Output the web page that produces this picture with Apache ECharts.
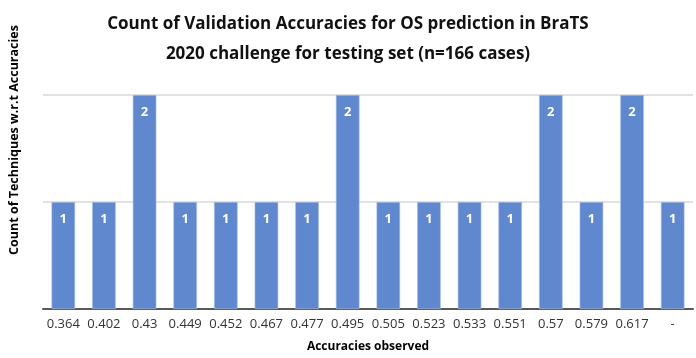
<!DOCTYPE html>
<html>
<head>
<meta charset="utf-8">
<script src="https://cdn.jsdelivr.net/npm/echarts@6/dist/echarts.min.js"></script>
<style>
html, body { margin: 0; padding: 0; background: #fff; }
#chart { width: 696px; height: 358px; }
</style>
</head>
<body>
<div id="chart"></div>
<script>
var categories = ['0.364', '0.402', '0.43', '0.449', '0.452', '0.467', '0.477', '0.495',
    '0.505', '0.523', '0.533', '0.551', '0.57', '0.579', '0.617', '-'];
var counts = [1, 1, 2, 1, 1, 1, 1, 2, 1, 1, 1, 1, 2, 1, 2, 1];
var titleLines = ['Count of Validation Accuracies for OS prediction in BraTS',
    '2020 challenge for testing set (n=166 cases)'];

var font = '"Open Sans", "Liberation Sans", sans-serif';
var myChart = echarts.init(document.getElementById('chart'));

var option = {
    textStyle: { fontFamily: font },
    title: {
        text: titleLines.join('\n'),
        left: 'center',
        top: 4,
        textStyle: {
            fontFamily: font,
            fontSize: 17,
            fontWeight: 'bold',
            color: '#111',
            lineHeight: 30
        }
    },
    grid: {
        top: 95,
        bottom: 45,
        left: 37,
        right: 3
    },
    xAxis: {
        type: 'category',
        data: categories,
        name: 'Accuracies observed',
        nameLocation: 'middle',
        nameGap: 32,
        nameTextStyle: { fontWeight: 'bold', fontSize: 12, color: '#000' },
        axisTick: { show: false },
        axisLine: { lineStyle: { color: '#595959', width: 2 } },
        axisLabel: { interval: 0, fontSize: 13, color: '#333', margin: 9 }
    },
    yAxis: {
        type: 'value',
        min: 0,
        max: 2,
        interval: 1,
        name: 'Count of Techniques w.r.t Accuracies',
        nameLocation: 'middle',
        nameGap: 22,
        nameTextStyle: { fontWeight: 'bold', fontSize: 12.5, color: '#000', padding: [0, 0, 0, 124] },
        axisLabel: { show: false },
        axisLine: { show: false },
        axisTick: { show: false },
        splitLine: { lineStyle: { color: '#d9d9d9', width: 1.5 } }
    },
    series: [{
        type: 'bar',
        data: counts,
        barWidth: '58%',
        itemStyle: { color: '#5f88cf', borderColor: '#a9c0e8', borderWidth: 0.6 },
        label: {
            show: true,
            position: 'insideTop',
            distance: 11,
            color: '#fff',
            fontWeight: 'bold',
            fontSize: 13
        }
    }]
};
myChart.setOption(option);
</script>
</body>
</html>
